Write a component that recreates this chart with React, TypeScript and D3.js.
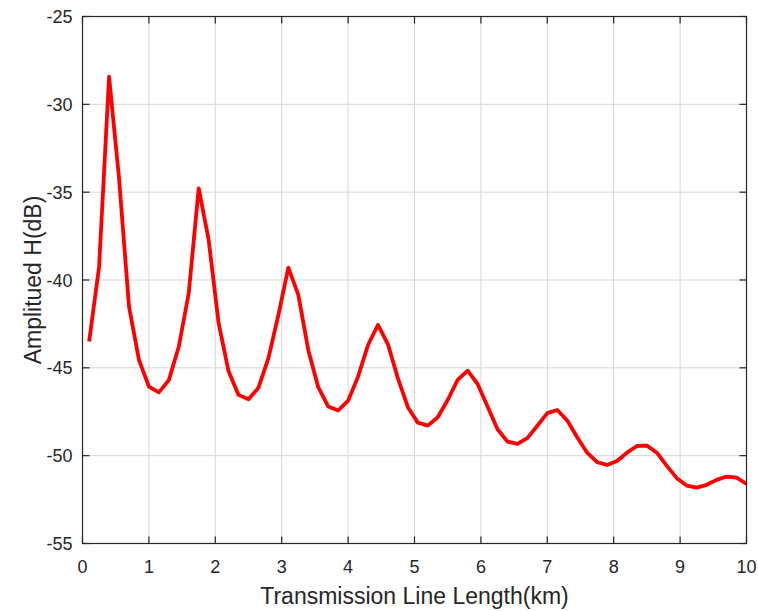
import React, { useEffect, useRef } from "react";
import * as d3 from "d3";

const lengthKm = [
  0.1, 0.25, 0.4, 0.55, 0.7, 0.85, 1.0, 1.15, 1.3, 1.45, 1.6, 1.75, 1.9, 2.05, 2.2, 2.35, 2.5,
  2.65, 2.8, 2.95, 3.1, 3.25, 3.4, 3.55, 3.7, 3.85, 4.0, 4.15, 4.3, 4.45, 4.6, 4.75, 4.9, 5.05,
  5.2, 5.35, 5.5, 5.65, 5.8, 5.95, 6.1, 6.25, 6.4, 6.55, 6.7, 6.85, 7.0, 7.15, 7.3, 7.45, 7.6,
  7.75, 7.9, 8.05, 8.2, 8.35, 8.5, 8.65, 8.8, 8.95, 9.1, 9.25, 9.4, 9.55, 9.7, 9.85, 10.0,
];
const amplitudeDb = [
  -43.5, -39.24, -28.43, -34.2, -41.5, -44.55, -46.07, -46.4, -45.7, -43.8, -40.75, -34.78,
  -37.72, -42.46, -45.2, -46.54, -46.79, -46.13, -44.45, -41.99, -39.3, -40.85, -43.98, -46.1,
  -47.2, -47.43, -46.87, -45.5, -43.7, -42.56, -43.66, -45.6, -47.24, -48.12, -48.29, -47.81,
  -46.83, -45.69, -45.16, -45.92, -47.2, -48.5, -49.2, -49.33, -49.0, -48.3, -47.58, -47.4,
  -48.0, -48.95, -49.83, -50.37, -50.53, -50.3, -49.83, -49.45, -49.43, -49.83, -50.58, -51.28,
  -51.7, -51.82, -51.66, -51.38, -51.19, -51.25, -51.6,
];
const xTicks = [0, 1, 2, 3, 4, 5, 6, 7, 8, 9, 10];
const yTicks = [-25, -30, -35, -40, -45, -50, -55];
const xLabel = "Transmission Line Length(km)";
const yLabel = "Amplitued H(dB)";

const W = 758;
const H = 611;
const M = { left: 82.5, top: 16.5, right: 746.5, bottom: 543.5 };
const FONT = "'Liberation Sans', Arial, Helvetica, sans-serif";
const AX = "#262626";

export default function App() {
  const ref = useRef<SVGSVGElement | null>(null);

  useEffect(() => {
    const svg = d3.select(ref.current);
    svg.selectAll("*").remove();

    const x = d3.scaleLinear().domain([0, 10]).range([M.left, M.right]);
    const y = d3.scaleLinear().domain([-55, -25]).range([M.bottom, M.top]);

    const g = svg.append("g");

    // grid
    g.selectAll("line.gx")
      .data(xTicks.slice(1, -1))
      .join("line")
      .attr("x1", (d) => x(d))
      .attr("x2", (d) => x(d))
      .attr("y1", M.top)
      .attr("y2", M.bottom)
      .attr("stroke", "#d6d6d6")
      .attr("stroke-width", 1);
    g.selectAll("line.gy")
      .data(yTicks.slice(1, -1))
      .join("line")
      .attr("x1", M.left)
      .attr("x2", M.right)
      .attr("y1", (d) => y(d))
      .attr("y2", (d) => y(d))
      .attr("stroke", "#d6d6d6")
      .attr("stroke-width", 1);

    // curve
    const line = d3
      .line<number>()
      .x((_, i) => x(lengthKm[i]))
      .y((d) => y(d));
    g.append("path")
      .datum(amplitudeDb)
      .attr("d", line)
      .attr("fill", "none")
      .attr("stroke", "#ff0000")
      .attr("stroke-width", 3.8)
      .attr("stroke-linejoin", "round")
      .attr("stroke-linecap", "butt");

    // box
    g.append("rect")
      .attr("x", M.left)
      .attr("y", M.top)
      .attr("width", M.right - M.left)
      .attr("height", M.bottom - M.top)
      .attr("fill", "none")
      .attr("stroke", AX)
      .attr("stroke-width", 1.2);

    const tl = 7;
    xTicks.forEach((t) => {
      g.append("line")
        .attr("x1", x(t)).attr("x2", x(t))
        .attr("y1", M.bottom).attr("y2", M.bottom - tl)
        .attr("stroke", AX).attr("stroke-width", 1.2);
      g.append("line")
        .attr("x1", x(t)).attr("x2", x(t))
        .attr("y1", M.top).attr("y2", M.top + tl)
        .attr("stroke", AX).attr("stroke-width", 1.2);
      g.append("text")
        .attr("x", x(t))
        .attr("y", M.bottom + 29)
        .attr("text-anchor", "middle")
        .attr("font-family", FONT)
        .attr("font-size", 18)
        .attr("fill", AX)
        .text(String(t));
    });
    yTicks.forEach((t) => {
      g.append("line")
        .attr("x1", M.left).attr("x2", M.left + tl)
        .attr("y1", y(t)).attr("y2", y(t))
        .attr("stroke", AX).attr("stroke-width", 1.2);
      g.append("line")
        .attr("x1", M.right).attr("x2", M.right - tl)
        .attr("y1", y(t)).attr("y2", y(t))
        .attr("stroke", AX).attr("stroke-width", 1.2);
      g.append("text")
        .attr("x", M.left - 10)
        .attr("y", y(t) + 6.5)
        .attr("text-anchor", "end")
        .attr("font-family", FONT)
        .attr("font-size", 18)
        .attr("fill", AX)
        .text(String(t));
    });

    g.append("text")
      .attr("x", (M.left + M.right) / 2)
      .attr("y", 604)
      .attr("text-anchor", "middle")
      .attr("font-family", FONT)
      .attr("font-size", 23)
      .attr("fill", AX)
      .text(xLabel);

    g.append("text")
      .attr("transform", `translate(41, ${(M.top + M.bottom) / 2}) rotate(-90)`)
      .attr("text-anchor", "middle")
      .attr("font-family", FONT)
      .attr("font-size", 23)
      .attr("fill", AX)
      .text(yLabel);
  }, []);

  return (
    <svg
      ref={ref}
      width={W}
      height={H}
      style={{ position: "absolute", left: 0, top: 0, display: "block", background: "#fff" }}
    />
  );
}
